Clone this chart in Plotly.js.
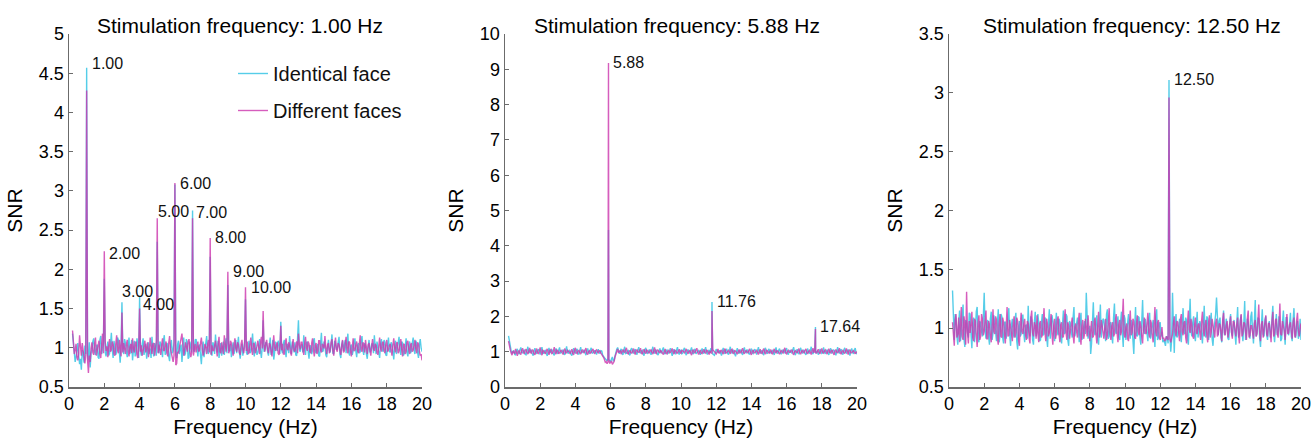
<!DOCTYPE html>
<html>
<head>
<meta charset="utf-8">
<script src="https://cdn.plot.ly/plotly-3.0.1.min.js"></script>
<style>html,body{margin:0;padding:0;background:#fff;}#chart{width:1312px;height:440px;}</style>
</head>
<body>
<div id="chart"></div>
<script>
// ---------- DATA ----------
// Frequency grid of the noise spectra (Hz): first bin and bin width
const FREQ_START = 0.2;
const FREQ_STEP = 0.05;

const panelTitles = ["Stimulation frequency: 1.00 Hz", "Stimulation frequency: 5.88 Hz", "Stimulation frequency: 12.50 Hz"];
const seriesNames = ["Identical face", "Different faces"];

// Panel 1 (1.00 Hz) — one row per 1 Hz
const p1Identical = [
1.18,1.05,0.96,0.82,0.88,0.99,1.06,0.90,0.79,0.86,0.72,0.97,0.94,0.81,1.03,0.92,1.00,0.91,0.84,1.07,
0.75,0.93,0.98,1.08,1.12,0.95,0.91,1.02,1.04,0.88,0.86,1.10,1.15,0.92,0.97,1.06,1.00,0.94,0.89,1.01,
1.08,0.90,0.93,1.04,1.19,0.98,0.87,1.09,1.02,0.91,0.95,1.13,1.10,0.86,0.81,1.03,1.00,0.97,0.92,1.11,
1.06,0.95,0.88,1.01,1.13,0.92,0.98,1.10,0.84,0.97,1.09,0.89,0.94,1.12,1.04,0.87,1.00,0.96,0.90,1.05,
1.12,0.91,0.96,1.05,0.86,1.02,1.07,0.92,0.99,0.87,1.14,0.97,0.89,1.06,1.01,0.90,1.00,0.95,0.93,1.08,
1.05,0.97,0.88,1.09,1.16,0.91,0.94,1.06,1.03,0.89,0.83,1.02,1.10,0.93,0.96,1.07,1.00,0.92,0.87,1.04,
1.09,0.92,0.97,1.04,0.82,0.96,1.13,0.90,0.93,1.11,1.06,0.86,0.88,1.08,1.02,0.94,1.00,0.98,0.95,1.10,
1.11,0.94,0.89,1.02,1.04,0.91,0.79,0.99,1.08,0.88,0.97,1.05,1.15,0.95,0.92,1.03,1.00,0.93,0.90,1.07,
1.03,0.92,1.17,1.01,0.94,1.09,0.87,0.96,1.06,0.90,0.99,1.08,0.91,1.02,1.12,0.93,1.00,0.97,0.96,1.05,
0.88,0.99,1.07,0.92,1.01,1.10,0.93,1.04,1.14,0.95,0.86,0.98,1.05,0.90,0.97,1.08,1.00,0.94,0.91,1.03,
1.09,0.93,0.95,1.04,1.18,0.97,0.89,1.08,1.02,0.91,0.94,1.06,1.11,0.96,0.87,1.01,1.00,0.95,0.98,1.07,
1.06,0.95,0.90,1.02,1.13,0.91,0.97,1.10,0.85,0.94,1.08,0.99,0.96,1.09,1.04,0.92,1.00,0.97,0.93,1.06,
1.10,0.97,0.88,1.05,1.03,0.93,1.15,1.01,0.92,1.08,0.99,0.94,1.07,0.91,0.90,1.06,1.00,0.98,0.95,1.02,
1.04,0.94,1.16,1.00,0.91,1.06,1.08,0.95,0.86,1.03,1.02,0.92,0.97,1.09,1.12,0.96,0.93,1.01,1.05,0.90,
0.89,1.04,1.19,0.95,0.96,1.08,1.03,0.91,0.88,1.00,1.10,0.97,0.94,1.05,1.17,0.93,0.92,1.09,1.06,0.98,
0.98,1.07,1.14,0.92,0.87,1.03,1.09,0.96,1.01,1.10,0.93,1.05,1.18,0.94,0.90,1.02,1.04,0.91,0.96,1.08,
1.12,0.96,0.88,1.03,1.06,0.93,0.95,1.09,1.15,0.97,0.91,1.06,1.03,0.92,0.86,1.01,1.10,0.94,0.97,1.05,
1.05,0.93,1.16,1.02,0.92,1.08,1.00,0.94,0.87,1.04,1.11,0.97,0.95,1.10,1.07,0.91,0.90,1.03,1.13,0.96,
0.94,1.07,1.04,0.95,0.85,1.01,1.09,0.92,0.98,1.05,1.14,0.96,0.91,1.08,1.06,0.90,0.93,1.02,1.12,0.94,
0.89,1.02,1.08,0.93,0.96,1.06,1.13,0.97,0.92,1.09,1.05,0.94,0.87,1.03,1.11,1.00,0.95];
const p1Different = [
1.22,1.01,0.92,0.97,1.05,0.88,0.84,0.93,1.16,1.02,0.90,1.06,0.98,0.86,0.80,0.91,1.00,0.85,0.68,0.90,
0.82,0.99,1.07,0.94,0.91,1.05,1.13,0.90,0.95,1.03,1.09,0.92,0.87,1.04,1.18,0.93,1.00,1.08,0.96,1.02,
0.88,1.03,1.11,0.95,0.97,1.08,1.04,0.92,0.90,1.05,1.16,0.97,0.93,1.10,1.02,0.89,1.00,0.94,1.06,0.98,
0.92,1.04,1.10,0.96,0.89,1.01,1.05,0.93,1.12,0.99,0.94,1.06,1.08,0.91,0.87,1.02,1.00,0.95,1.03,0.90,
0.95,1.02,1.09,0.94,1.01,1.07,0.88,0.96,1.13,1.00,0.92,1.05,1.06,0.90,0.97,1.08,1.00,0.93,1.04,0.97,
0.91,1.04,1.12,0.97,0.96,1.03,1.08,0.93,0.89,1.06,1.15,0.99,0.94,0.86,0.82,0.90,1.00,0.78,0.80,0.95,
0.93,1.00,1.06,1.12,1.18,1.03,0.90,0.97,1.07,1.01,0.95,1.08,1.11,0.96,0.88,0.93,1.00,0.90,1.02,1.05,
0.94,1.02,1.08,0.95,0.97,1.06,1.13,0.99,0.90,0.96,1.05,1.01,0.92,1.04,1.10,0.94,1.00,0.91,1.03,0.97,
0.96,1.03,1.09,0.98,0.89,1.05,1.14,0.95,0.93,1.07,1.01,0.92,1.16,1.02,0.95,1.06,1.00,0.93,0.97,1.09,
1.06,0.97,0.90,1.03,1.12,0.99,0.95,1.07,1.04,0.94,0.91,1.05,1.10,0.98,0.93,1.02,1.00,0.96,1.08,0.92,
0.94,1.04,1.13,0.98,0.91,1.06,1.05,0.93,0.97,1.02,1.09,0.96,0.92,1.07,1.14,0.99,1.00,1.03,0.95,1.06,
1.10,0.98,0.93,1.06,1.04,0.95,0.89,1.02,1.16,1.00,0.96,1.04,1.07,0.93,0.91,1.01,1.00,0.97,1.05,0.92,
0.92,1.05,1.12,0.99,0.97,1.07,1.03,0.94,0.90,1.03,1.11,0.97,0.95,1.02,1.08,0.93,1.00,1.04,0.98,1.07,
1.07,0.98,0.91,1.04,1.14,1.00,0.96,1.08,1.05,0.95,0.93,1.06,1.12,0.97,0.89,1.03,1.06,0.92,0.95,1.09,
1.09,0.97,0.94,1.05,1.03,0.99,1.15,1.00,0.92,1.04,1.06,0.93,0.97,1.07,1.11,0.96,0.90,1.02,1.13,0.98,
0.95,1.06,1.04,0.97,0.91,1.03,1.10,0.94,0.96,1.05,1.14,0.99,0.93,1.08,1.07,0.95,0.89,1.01,1.12,0.96,
0.97,1.03,1.08,0.96,0.93,1.05,1.16,0.98,0.95,1.07,1.04,0.94,1.10,1.00,0.92,1.04,1.06,0.97,0.90,1.02,
1.11,0.99,0.96,1.05,1.03,0.94,0.91,1.02,1.13,1.00,0.95,1.06,1.08,0.97,0.93,1.04,1.10,0.95,0.97,1.03,
1.05,0.97,0.90,1.03,1.12,1.00,0.94,1.06,1.07,0.93,0.96,1.04,1.11,0.98,0.89,1.05,1.04,0.92,0.95,1.07,
1.09,0.98,0.92,1.04,1.06,0.95,0.97,1.03,1.10,0.99,0.93,1.07,1.05,0.96,0.90,0.92,0.84];
const p1PeakFreqs     = [1, 2, 3, 4, 5, 6, 7, 8, 9, 10, 11, 12, 13];
const p1PeakIdentical = [4.57, 1.88, 1.58, 1.65, 2.35, 3.08, 2.75, 2.16, 1.80, 1.62, 1.35, 1.33, 1.35];
const p1PeakDifferent = [4.28, 2.23, 1.45, 1.50, 2.65, 3.10, 2.65, 2.40, 1.97, 1.77, 1.47, 1.28, 1.18];
const p1PeakLabels    = ["1.00","2.00","3.00","4.00","5.00","6.00","7.00","8.00","9.00","10.00","","",""];

// Panel 2 (5.88 Hz)
const p2Identical = [
1.45,1.25,1.10,1.02,0.95,0.99,1.04,0.93,0.90,1.03,1.08,0.96,0.93,1.05,1.12,0.98,0.97,1.01,1.06,0.92,
0.91,1.04,1.14,0.97,0.98,1.06,1.03,0.94,0.89,1.01,1.10,0.96,0.95,1.03,1.07,0.99,0.92,1.05,1.13,0.95,
0.96,1.02,1.05,0.95,0.88,1.00,1.11,0.97,0.99,1.06,1.04,0.93,0.90,1.01,1.09,0.98,0.94,1.04,1.12,0.96,
0.97,1.01,1.06,0.94,0.91,1.03,1.15,0.98,0.95,1.05,1.02,0.92,0.89,1.00,1.10,0.97,0.96,1.04,1.08,0.93,
0.93,1.03,1.13,0.96,0.98,1.01,1.05,0.94,0.90,1.02,1.09,0.98,0.94,1.05,1.11,0.95,0.97,1.00,1.04,0.96,
0.92,1.01,1.07,0.98,0.95,1.03,1.02,0.90,0.84,0.83,0.80,0.77,0.74,0.81,0.78,0.75,0.72,0.79,0.85,0.73,
0.76,0.88,1.03,1.07,1.12,1.00,0.94,1.02,1.08,0.97,0.91,1.04,1.14,0.95,0.96,1.01,1.05,0.93,0.90,1.06,
1.10,0.99,0.95,1.03,1.07,0.96,0.92,1.05,1.13,0.98,0.97,1.02,1.04,0.94,0.89,1.06,1.11,0.97,0.94,1.01,
1.06,0.98,0.91,1.04,1.14,0.97,0.96,1.05,1.03,0.94,0.90,1.02,1.09,0.99,0.95,1.06,1.12,0.96,0.93,1.03,
1.05,0.95,0.97,1.03,1.10,0.98,0.88,1.01,1.07,0.96,0.94,1.05,1.13,0.97,0.92,1.02,1.04,0.94,0.96,1.06,
1.11,0.97,0.90,1.02,1.06,0.99,0.95,1.04,1.12,0.96,0.93,1.05,1.08,0.94,0.97,1.01,1.03,0.98,0.91,1.03,
1.09,0.98,0.95,1.04,1.13,0.97,0.92,1.01,1.05,0.96,1.10,1.02,0.94,0.93,0.90,0.97,1.07,1.03,0.96,0.99,
1.04,0.97,0.89,1.02,1.11,0.99,0.94,1.05,1.08,0.95,0.92,1.03,1.14,0.98,0.96,1.06,1.02,0.94,0.87,1.01,
1.10,0.98,0.95,1.03,1.06,0.96,0.91,1.02,1.12,0.99,0.97,1.05,1.04,0.94,0.93,1.01,1.09,0.97,0.95,1.04,
1.07,0.99,0.92,1.04,1.13,0.97,0.96,1.02,1.03,0.95,0.90,1.06,1.11,0.98,0.94,1.03,1.08,0.96,0.97,1.01,
1.05,0.97,0.91,1.03,1.12,0.98,0.95,1.04,1.09,0.96,0.93,1.01,1.06,0.99,0.97,1.05,1.10,0.95,0.92,1.02,
1.04,0.98,0.96,1.05,1.13,0.97,0.90,1.02,1.07,0.96,0.94,1.03,1.11,0.99,0.95,1.04,1.03,0.95,0.91,1.00,
1.09,0.97,0.96,1.03,1.14,0.98,0.93,1.04,1.05,0.95,1.00,1.02,0.92,0.96,1.08,1.01,0.95,0.97,1.12,0.99,
0.94,1.02,1.06,0.97,0.91,1.03,1.10,0.96,0.97,1.05,1.04,0.98,0.90,1.01,1.13,0.99,0.95,1.04,1.07,0.96,
0.92,1.03,1.11,0.98,0.96,1.04,1.05,0.97,0.89,1.02,1.09,0.99,0.94,1.05,1.10,0.96,0.93];
const p2Different = [
1.30,1.12,1.05,0.96,0.90,1.02,0.99,0.94,1.08,0.97,0.88,1.01,1.03,0.95,0.92,1.04,1.10,0.98,0.94,1.03,
1.07,0.98,0.93,1.02,1.11,0.97,0.96,1.05,1.04,0.94,0.91,1.01,1.09,0.96,0.95,1.03,1.12,0.99,0.90,1.04,
1.02,0.97,0.94,1.03,1.08,0.99,0.91,1.04,1.06,0.95,0.96,1.02,1.13,0.98,0.93,1.05,1.03,0.94,0.97,1.01,
1.05,0.98,0.92,1.03,1.09,0.96,0.97,1.04,1.02,0.99,0.94,1.02,1.07,0.95,0.91,1.05,1.11,0.97,0.95,1.02,
1.04,0.97,0.93,1.02,1.06,0.99,0.96,1.05,1.10,0.95,0.92,1.01,1.03,0.96,0.98,1.04,1.08,0.98,0.94,1.03,
1.05,0.99,0.97,1.03,1.02,0.96,0.93,0.88,0.84,0.78,0.70,0.72,0.66,0.70,0.76,0.68,0.69,0.74,0.64,0.67,
0.72,0.85,0.95,1.02,1.08,0.97,1.00,1.04,0.93,0.99,1.06,1.01,0.97,1.05,1.11,0.96,0.94,1.00,1.04,0.97,
0.96,1.02,1.09,0.97,0.92,1.04,1.05,0.99,0.98,1.03,1.10,0.96,0.93,1.01,1.07,0.98,0.95,1.05,1.03,0.97,
0.97,1.03,1.06,0.98,0.93,1.02,1.12,0.97,0.95,1.05,1.04,0.99,0.96,1.04,1.01,0.95,0.92,1.01,1.08,0.96,
0.94,1.01,1.05,0.97,0.98,1.03,1.09,0.99,0.93,1.04,1.03,0.96,0.96,1.02,1.07,0.98,0.95,1.05,1.02,0.97,
0.97,1.02,1.08,0.99,0.94,1.01,1.04,0.96,0.90,1.03,1.06,0.97,0.98,1.04,1.10,0.98,0.92,1.00,1.05,0.96,
0.95,1.01,1.07,0.98,0.96,1.04,1.03,0.97,0.92,1.02,0.97,0.95,1.06,1.03,0.99,0.96,0.94,1.00,1.08,0.97,
0.96,1.02,1.05,0.98,0.93,1.03,1.09,0.96,0.97,1.01,1.04,0.99,0.94,1.05,1.07,0.97,0.95,1.04,1.02,0.98,
0.93,1.00,1.06,0.98,0.97,1.04,1.10,0.97,0.94,1.02,1.03,0.99,0.96,1.03,1.08,0.96,0.91,1.01,1.05,0.97,
0.97,1.01,1.04,0.98,0.92,1.02,1.07,0.96,0.95,1.03,1.09,0.97,0.93,1.04,1.03,0.99,0.96,1.00,1.06,0.95,
0.94,1.02,1.08,0.99,0.97,1.03,1.02,0.97,0.93,1.00,1.05,0.98,0.96,1.04,1.11,0.96,0.94,1.01,1.04,0.98,
0.98,1.02,1.06,0.97,0.91,1.00,1.03,0.99,0.96,1.03,1.09,0.96,0.93,1.01,1.05,0.98,0.97,1.04,1.08,0.96,
0.95,1.01,1.04,0.98,0.92,1.03,1.10,0.97,1.02,0.99,0.95,1.02,1.07,0.97,0.94,1.03,1.09,0.98,0.96,1.02,
1.05,0.99,0.93,1.02,1.08,0.98,0.97,1.04,1.03,0.96,0.91,1.01,1.06,0.99,0.96,1.03,1.10,0.97,0.93,1.01,
1.04,0.98,0.95,1.02,1.09,0.99,0.92,1.03,1.06,0.97,0.97,1.01,1.03,0.98,0.94,1.00,0.96];
const p2PeakFreqs     = [5.88, 11.76, 17.64];
const p2PeakIdentical = [4.45, 2.41, 1.70];
const p2PeakDifferent = [9.18, 2.15, 1.64];
const p2PeakLabels    = ["5.88", "11.76", "17.64"];

// Panel 3 (12.50 Hz)
const p3Identical = [
1.32,1.02,0.90,1.12,1.08,0.93,0.86,1.04,1.15,0.89,0.95,1.10,1.20,0.91,0.84,1.07,1.05,0.96,0.92,1.13,
1.12,0.95,0.83,1.05,1.09,0.88,0.97,1.14,1.18,0.92,0.88,1.06,1.04,0.97,0.93,1.09,1.30,0.99,0.91,1.03,
1.07,0.93,0.86,1.08,1.14,0.90,0.96,1.11,1.02,0.95,0.89,1.04,1.16,0.88,0.94,1.12,1.10,0.92,0.87,1.05,
1.05,0.91,0.98,1.10,1.17,0.94,0.85,1.03,1.08,0.96,0.92,1.07,1.13,0.89,0.82,1.01,1.06,0.93,0.95,1.11,
1.11,0.96,0.88,1.02,1.03,0.91,1.19,0.98,0.93,1.10,1.07,0.90,0.86,1.05,1.14,0.93,0.97,1.12,1.04,0.89,
0.90,1.04,1.12,0.94,0.95,1.09,1.08,0.92,0.84,1.03,1.16,0.91,0.99,1.11,1.06,0.95,0.89,1.02,1.13,0.97,
0.94,1.08,1.05,0.91,0.87,1.03,1.15,0.95,0.96,1.12,1.10,0.90,0.85,1.06,1.04,0.97,0.92,1.09,1.18,0.93,
0.97,1.04,1.09,0.94,0.88,1.07,1.13,0.90,0.93,1.01,1.06,0.95,1.30,1.10,0.91,0.96,1.02,0.78,0.87,1.05,
1.22,0.97,0.94,1.05,1.11,0.90,0.86,1.03,1.20,0.92,0.98,1.08,1.07,0.95,0.89,1.12,1.16,0.91,0.93,1.04,
1.05,0.93,0.87,1.09,1.21,0.98,0.95,1.04,1.10,0.92,0.90,1.06,1.14,0.96,0.84,1.11,1.08,0.90,0.97,1.02,
1.12,0.96,0.91,1.07,1.04,0.90,0.78,1.01,1.18,0.94,0.93,1.10,1.09,0.92,0.86,1.05,1.24,0.98,0.95,1.08,
1.02,0.94,0.89,1.08,1.13,0.91,0.96,1.03,1.07,0.95,0.84,1.10,1.16,0.90,0.92,1.04,1.05,0.93,0.97,0.88,
0.90,0.88,0.85,0.93,0.92,0.87,1.00,0.95,0.80,0.90,1.30,1.02,0.79,1.05,1.12,0.92,0.94,1.01,1.08,0.95,
0.88,1.03,1.17,0.96,0.95,1.09,1.06,0.91,0.86,1.04,1.25,0.97,0.93,1.05,1.10,0.94,0.89,1.02,1.14,0.92,
0.97,1.06,1.03,0.93,0.87,1.02,1.19,0.95,0.92,1.10,1.08,0.90,0.96,1.04,1.13,0.91,0.85,0.98,1.05,1.12,
1.26,0.99,0.94,1.06,1.09,0.92,0.88,1.03,1.15,0.94,0.97,1.08,1.04,0.91,0.90,1.05,1.12,0.96,0.93,1.02,
1.07,0.95,0.86,1.04,1.18,0.92,0.95,1.06,1.11,0.97,0.89,1.03,1.23,0.90,0.94,1.08,1.05,0.96,0.91,1.10,
1.14,0.97,0.87,1.05,1.24,0.93,0.96,1.09,1.08,0.92,0.84,1.02,1.16,0.95,0.93,1.07,1.10,0.94,0.90,1.03,
1.06,0.92,0.95,1.08,1.19,0.96,0.88,1.02,1.12,0.94,0.97,1.10,1.03,0.89,0.91,1.05,1.15,0.97,0.86,1.09,
1.09,0.97,0.94,1.04,1.13,0.93,0.89,1.07,1.17,0.96,0.92,1.02,1.06,0.91,0.95,1.08,0.90];
const p3Different = [
1.05,0.94,0.85,1.07,1.12,0.92,0.95,1.09,0.88,1.02,1.18,0.93,0.90,1.10,1.03,0.86,1.31,0.97,0.87,1.06,
0.96,1.03,1.14,0.92,0.89,1.08,1.06,0.95,0.84,1.04,1.11,0.90,0.93,1.12,1.08,0.94,0.97,1.06,1.15,0.91,
0.91,1.06,1.03,0.94,0.88,1.01,1.16,0.97,0.95,1.10,1.07,0.91,0.86,1.04,1.12,0.93,0.92,1.09,1.05,0.96,
0.87,1.01,1.18,0.93,0.94,1.07,1.02,0.95,0.89,1.04,1.10,0.92,0.96,1.09,1.06,0.90,0.85,1.03,1.13,0.97,
0.95,1.03,1.08,0.94,0.90,1.06,1.04,0.92,0.87,1.09,1.15,0.96,0.93,1.05,1.02,0.91,1.11,0.95,0.88,1.04,
1.06,0.92,0.94,1.05,1.17,0.97,0.89,1.08,1.03,0.93,0.96,1.04,1.12,0.95,0.86,1.02,1.08,0.91,0.95,1.07,
1.10,0.95,0.88,1.03,1.05,0.92,0.93,1.07,1.16,0.96,0.90,1.05,1.02,0.91,0.97,1.04,1.09,0.94,0.87,1.01,
1.04,0.97,0.92,1.06,1.13,0.94,0.86,1.02,1.07,0.91,0.95,1.08,0.99,0.93,1.11,1.03,0.89,0.98,1.06,0.92,
0.93,1.05,1.09,0.95,0.87,1.02,1.14,0.92,0.96,1.07,1.03,0.97,0.91,1.04,1.08,0.90,0.94,1.03,1.17,0.96,
0.90,1.02,1.05,0.93,0.95,1.06,1.12,0.96,0.88,1.03,1.07,0.94,0.97,1.08,1.25,0.95,0.92,1.01,1.04,0.91,
0.89,1.03,1.15,0.94,0.96,1.08,1.06,0.92,0.91,1.04,1.11,0.97,0.94,1.06,1.02,0.93,0.87,1.01,1.09,0.96,
0.95,1.04,1.13,0.96,0.92,1.07,1.04,0.94,0.88,1.02,1.18,0.97,0.93,1.05,1.07,0.92,0.90,0.95,1.01,0.91,
0.92,0.89,0.90,0.93,0.91,0.90,1.00,0.91,0.88,0.92,0.95,1.04,1.10,0.97,0.93,1.06,1.05,0.96,0.89,1.08,
1.12,0.97,0.94,1.05,1.06,0.92,0.87,1.04,1.15,0.99,0.96,1.08,1.03,0.93,0.91,1.02,1.09,0.96,0.95,1.03,
1.04,0.96,0.90,1.06,1.14,0.98,0.93,1.03,1.07,0.94,0.88,1.05,1.11,0.92,0.97,1.08,1.02,0.95,0.92,1.04,
1.08,0.93,0.95,1.04,1.03,0.97,0.89,1.07,1.13,0.96,0.94,1.02,1.06,0.92,0.98,1.05,1.10,0.97,0.91,1.06,
1.05,0.98,0.93,1.03,1.09,0.95,0.87,1.06,1.12,0.93,0.96,1.05,1.04,0.97,0.90,1.08,1.15,0.92,0.94,1.02,
1.02,0.96,0.91,1.04,1.07,0.93,0.95,1.05,1.20,0.97,0.89,1.03,1.06,0.92,0.97,1.06,1.11,0.95,0.93,1.04,
1.04,0.97,0.88,1.05,1.14,0.93,0.95,1.07,1.08,0.96,0.92,1.02,1.21,0.95,0.94,1.06,1.03,0.98,0.90,1.07,
1.12,0.95,0.96,1.03,1.05,0.97,0.91,1.05,1.09,0.92,0.94,1.06,1.13,0.98,0.93,0.99,1.04];
const p3PeakFreqs     = [12.5];
const p3PeakIdentical = [3.11];
const p3PeakDifferent = [2.96];
const p3PeakLabels    = ["12.50"];

// ---------- BUILD ----------
const FONT = "Liberation Sans, Arial, Helvetica, sans-serif";
const COLORS = ["rgb(85,205,232)", "rgb(204,52,172)"];
const OPAC = [1.0, 0.8];

function buildSeries(noise, peakFreqs, peakVals) {
  const pts = noise.map((v, i) => [Math.round((FREQ_START + i * FREQ_STEP) * 100) / 100, v]);
  peakFreqs.forEach((f, k) => {
    const idx = pts.findIndex(p => Math.abs(p[0] - f) < 1e-6);
    if (idx >= 0) pts[idx][1] = peakVals[k];
    else pts.push([f, peakVals[k]]);
  });
  pts.sort((a, b) => a[0] - b[0]);
  return {x: pts.map(p => p[0]), y: pts.map(p => p[1])};
}

const panels = [
  {id: p1Identical, df: p1Different, pf: p1PeakFreqs, pi: p1PeakIdentical, pd: p1PeakDifferent, lab: p1PeakLabels, yr: [0.5, 5], dy: 0.5},
  {id: p2Identical, df: p2Different, pf: p2PeakFreqs, pi: p2PeakIdentical, pd: p2PeakDifferent, lab: p2PeakLabels, yr: [0, 10], dy: 1},
  {id: p3Identical, df: p3Different, pf: p3PeakFreqs, pi: p3PeakIdentical, pd: p3PeakDifferent, lab: p3PeakLabels, yr: [0.5, 3.5], dy: 0.5}
];

// layout geometry (pixels of the 1312x440 canvas)
const W = 1312, H = 440;
const plotBoxes = [[69, 422], [505, 857], [949, 1301]];
const yTop = 34, yBot = 387;
const titleCenters = [240, 677, 1132];
// label nudges (pixels) for crowded peak labels
const labelNudge = {"1.00": [3, 4], "2.00": [3, -2], "3.00": [-2, 11], "4.00": [1, -8], "5.00": [-1, 7], "7.00": [1, -2]};

const traces = [];
const annotations = [];
const layout = {
  width: W, height: H,
  margin: {l: 0, r: 0, t: 0, b: 0},
  paper_bgcolor: "#fff", plot_bgcolor: "#fff",
  font: {family: FONT, color: "#000"},
  showlegend: true,
  legend: {x: 233 / W, y: 1 - 54 / H, xanchor: "left", yanchor: "top", bgcolor: "rgba(0,0,0,0)",
           font: {size: 20, family: FONT, color: "#111"}, tracegroupgap: 8, itemwidth: 30},
  annotations: annotations
};

panels.forEach((p, k) => {
  const n = k + 1;
  const xa = "x" + (n === 1 ? "" : n), ya = "y" + (n === 1 ? "" : n);
  [p.id, p.df].forEach((noise, s) => {
    const ser = buildSeries(noise, p.pf, s === 0 ? p.pi : p.pd);
    traces.push({
      type: "scatter", mode: "lines", x: ser.x, y: ser.y, xaxis: xa, yaxis: ya,
      name: seriesNames[s], legendgroup: "g" + s, showlegend: k === 0,
      line: {color: COLORS[s], width: 1.4}, opacity: OPAC[s], hoverinfo: "skip"
    });
  });
  const axBase = {showline: true, linecolor: "#6b6b6b", linewidth: 1.5, ticks: "inside", ticklen: 4,
                  tickcolor: "#6b6b6b", tickwidth: 1, showgrid: false, zeroline: false,
                  tickfont: {size: 18, family: FONT, color: "#000"}};
  layout["xaxis" + (n === 1 ? "" : n)] = Object.assign({}, axBase, {
    domain: [plotBoxes[k][0] / W, plotBoxes[k][1] / W], anchor: ya, range: [0, 20], dtick: 2, tick0: 0,
    title: {text: "Frequency (Hz)", font: {size: 21, family: FONT, color: "#000"}, standoff: 6}
  });
  layout["yaxis" + (n === 1 ? "" : n)] = Object.assign({}, axBase, {
    domain: [1 - yBot / H, 1 - yTop / H], anchor: xa, range: p.yr, dtick: p.dy, tick0: 0,
    title: {text: "SNR", font: {size: 21, family: FONT, color: "#000"}, standoff: 10}
  });
  annotations.push({xref: "paper", yref: "paper", x: titleCenters[k] / W, y: 1 - 26 / H,
    xanchor: "center", yanchor: "middle", showarrow: false, text: panelTitles[k],
    font: {size: 21, family: FONT, color: "#000"}});
  p.lab.forEach((t, j) => {
    if (!t) return;
    const nud = labelNudge[t] || [3, 0];
    annotations.push({xref: xa, yref: ya, x: p.pf[j], y: Math.max(p.pi[j], p.pd[j]),
      xanchor: "left", yanchor: "middle", xshift: nud[0], yshift: nud[1], showarrow: false, text: t,
      font: {size: 16, family: FONT, color: "#111"}});
  });
});

Plotly.newPlot("chart", traces, layout, {staticPlot: true, displayModeBar: false});
</script>
</body>
</html>
